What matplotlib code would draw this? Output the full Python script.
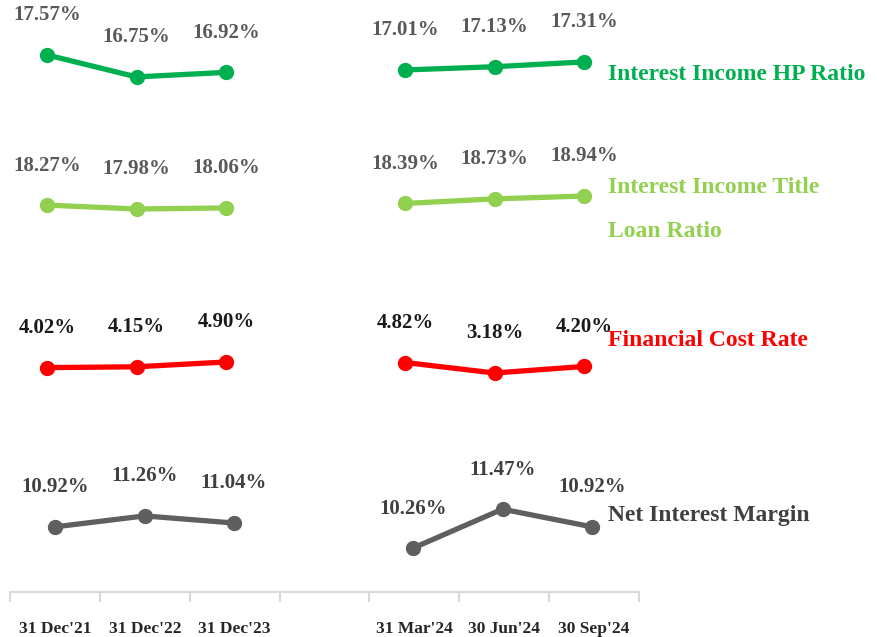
import matplotlib
matplotlib.use("Agg")
import matplotlib.pyplot as plt
import numpy as np

plt.rcParams["font.family"] = ["Liberation Serif", "DejaVu Serif"]
plt.rcParams["font.weight"] = "bold"

categories = ["31 Dec'21", "31 Dec'22", "31 Dec'23", "", "31 Mar'24", "30 Jun'24", "30 Sep'24"]
hp_ratio = [17.57, 16.75, 16.92, np.nan, 17.01, 17.13, 17.31]
title_loan_ratio = [18.27, 17.98, 18.06, np.nan, 18.39, 18.73, 18.94]
fin_cost_rate = [4.02, 4.15, 4.90, np.nan, 4.82, 3.18, 4.20]
nim = [10.92, 11.26, 11.04, np.nan, 10.26, 11.47, 10.92]

W, H = 877, 637
fig = plt.figure(figsize=(W / 100, H / 100), dpi=100)
x = np.arange(len(categories))

# base axis with category labels
base = fig.add_axes([10 / W, 45 / H, 629 / W, 0.9])
base.set_xlim(-0.5, 6.5)
base.set_ylim(0, 1)
for s in ["top", "left", "right"]:
    base.spines[s].set_visible(False)
base.spines["bottom"].set_color("#d9d9d9")
base.spines["bottom"].set_linewidth(1.5)
base.set_yticks([])
base.set_xticks(x)
base.set_xticklabels(categories, fontsize=12.5, fontweight="bold", color="#262626")
base.tick_params(axis="x", which="major", length=0, pad=21)
base.set_xticks(np.arange(-0.5, 7, 1), minor=True)
base.tick_params(axis="x", which="minor", length=7, width=1.5, color="#d9d9d9")
base.patch.set_alpha(0)

# (values, color, label color, ylim, left px)
series = [
    (hp_ratio, "#00b050", "#595959", (-4.15, 19.62), 2.25),
    (title_loan_ratio, "#92d050", "#595959", (-13.72, 33.46), 2.25),
    (fin_cost_rate, "#ff0000", "#1a1a1a", (-38.07, 61.46), 2.25),
    (nim, "#5f5f5f", "#404040", (7.50, 27.28), 10.25),
]

for vals, col, lcol, ylim, left in series:
    ax = fig.add_axes([left / W, 0, 626.5 / W, 1])
    ax.set_xlim(-0.5, 6.5)
    ax.set_ylim(*ylim)
    ax.axis("off")
    ax.plot(x, vals, color=col, lw=3.8, marker="o", ms=10, solid_capstyle="round")
    for xi, v in zip(x, vals):
        if np.isnan(v):
            continue
        ax.annotate(f"{v:.2f}%", (xi, v), xytext=(0, 28.5), textcoords="offset points",
                    ha="center", va="center", fontsize=15, fontweight="bold", color=lcol)

label_kw = dict(fontsize=17, fontweight="bold", va="center")
fig.text(608 / W, 1 - 75 / H, "Interest Income HP Ratio", color="#00b050", **label_kw)
fig.text(608 / W, 1 - 188 / H, "Interest Income Title", color="#92d050", **label_kw)
fig.text(608 / W, 1 - 232 / H, "Loan Ratio", color="#92d050", **label_kw)
fig.text(608 / W, 1 - 340 / H, "Financial Cost Rate", color="#ff0000", **label_kw)
fig.text(608 / W, 1 - 515 / H, "Net Interest Margin", color="#404040", **label_kw)

fig.savefig("out.png", dpi=100)
